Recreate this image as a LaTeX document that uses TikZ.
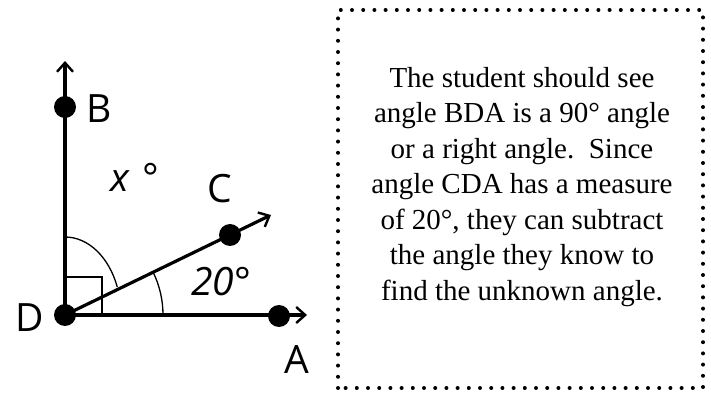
\documentclass[tikz,border=0pt]{standalone}
\usepackage{fontspec}
\setmainfont{Liberation Serif}
\newfontfamily\labelfont{Open Sans}
\usetikzlibrary{arrows.meta}

\begin{document}
\begin{tikzpicture}[x=1pt,y=1pt,
    pt/.style={circle, fill, inner sep=0pt, minimum size=22pt},
    ray/.style={line width=3.2pt, -{Straight Barb[length=9pt,width=16pt,line width=2.4pt]}},
    lbl/.style={font=\labelfont\fontsize{39}{42}\selectfont},
    anglemark/.style={line width=1.3pt}]
    \useasboundingbox (0,0) rectangle (711,396);

    % points
    \node[pt] (D) at (65,81) {};
    \node[pt] (B) at (65,289) {};
    \node[pt] (C) at (230,161) {};
    \node[pt] (A) at (279,80) {};
    \coordinate (Btip) at (65,335);
    \coordinate (Ctip) at (271,181);
    \coordinate (Atip) at (307,81);

    % rays
    \draw[ray] (D.center) -- (Btip);
    \draw[ray] (D.center) -- (Ctip);
    \draw[ray] (D.center) -- (Atip);

    % angle marks
    \draw[anglemark] (65,119) -| (102,81);
    \draw[anglemark] (65,159) arc[start angle=90, end angle=21, x radius=56, y radius=78];
    \draw[anglemark] (163,81) arc[start angle=0, end angle=25.9, radius=98];

    % labels
    \node[lbl] (Bl) at (99,287) {B};
    \node[lbl] (Cl) at (220,207) {C};
    \node[lbl] (Dl) at (30,78) {D};
    \node[lbl] (Al) at (297,36) {A};
    \node[lbl] (xl) at (135,219) {\itshape x\,\,\upshape°};
    \node[lbl] (al) at (221,114) {\itshape 20°};

    % explanation
    \draw[line width=4pt, line cap=round, dash pattern=on 0pt off 11.2pt] (338,8) rectangle (703,386);
    \node[align=center, font=\fontsize{29}{35.5}\selectfont] (txt) at (522,209)
        {The student should see\\angle BDA is a 90° angle\\or a right angle.\ \ Since\\angle CDA has a measure\\of 20°, they can subtract\\the angle they know to\\find the unknown angle.};
\end{tikzpicture}
\end{document}
